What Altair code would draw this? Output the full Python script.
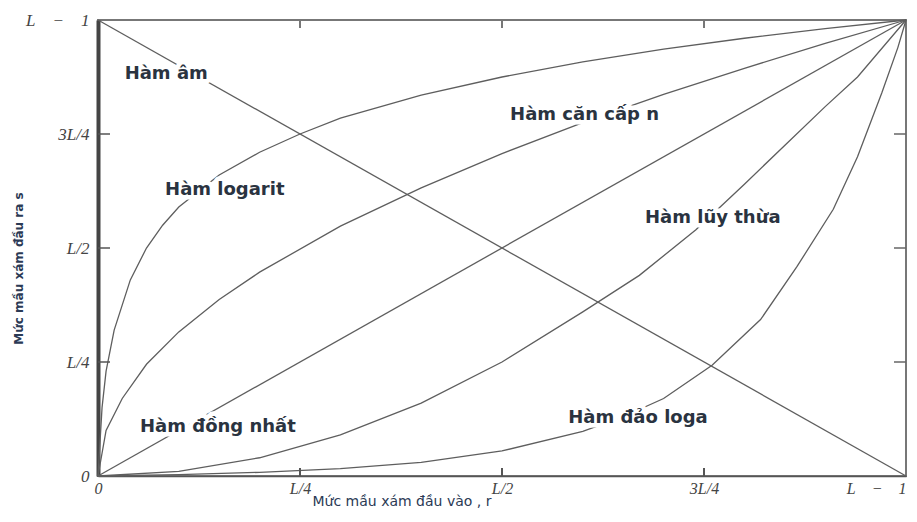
import altair as alt
import pandas as pd

# ---- data (normalised: 0 = 0, 1 = L-1) ----
neg_x = [0.0, 1.0]
neg_y = [1.0, 0.0]

log_x = [0.0, 0.005, 0.01, 0.02, 0.04, 0.06, 0.08, 0.10, 0.15, 0.20, 0.25, 0.30, 0.40, 0.50, 0.60, 0.70, 0.80, 0.90, 1.0]
log_y = [0.0, 0.15, 0.23, 0.32, 0.43, 0.50, 0.55, 0.59, 0.66, 0.71, 0.75, 0.785, 0.835, 0.875, 0.908, 0.936, 0.96, 0.981, 1.0]

root_x = [0.0, 0.01, 0.03, 0.06, 0.10, 0.15, 0.20, 0.30, 0.40, 0.50, 0.60, 0.70, 0.80, 0.90, 1.0]
root_y = [0.0, 0.10, 0.17, 0.245, 0.316, 0.387, 0.447, 0.548, 0.632, 0.707, 0.775, 0.837, 0.894, 0.949, 1.0]

ident_x = [0.0, 1.0]
ident_y = [0.0, 1.0]

pow_x = [0.0, 0.1, 0.2, 0.3, 0.4, 0.5, 0.6, 0.67, 0.74, 0.8, 0.9, 0.94, 1.0]
pow_y = [0.0, 0.01, 0.04, 0.09, 0.16, 0.25, 0.36, 0.44, 0.54, 0.64, 0.81, 0.875, 1.0]

invlog_x = [0.0, 0.1, 0.2, 0.3, 0.4, 0.5, 0.6, 0.65, 0.7, 0.76, 0.82, 0.865, 0.91, 0.94, 0.97, 0.99, 1.0]
invlog_y = [0.0, 0.003, 0.008, 0.016, 0.03, 0.055, 0.098, 0.13, 0.17, 0.243, 0.343, 0.459, 0.585, 0.70, 0.84, 0.94, 1.0]

label_text = ["Hàm âm", "Hàm logarit", "Hàm căn cấp n", "Hàm lũy thừa", "Hàm đồng nhất", "Hàm đảo loga"]
label_x = [0.033, 0.083, 0.510, 0.677, 0.052, 0.582]
label_y = [0.882, 0.627, 0.792, 0.566, 0.107, 0.127]

tick_vals = [0.0, 0.25, 0.5, 0.75, 1.0]
tick_labels = ["0", "L/4", "L/2", "3L/4", "L\u2003\u2212\u20031"]
inner_ticks = [0.25, 0.5, 0.75]

# ---- tables ----
rows = []
for name, xs, ys in [("neg", neg_x, neg_y), ("log", log_x, log_y), ("root", root_x, root_y),
                     ("ident", ident_x, ident_y), ("pow", pow_x, pow_y), ("invlog", invlog_x, invlog_y)]:
    for i, (a, b) in enumerate(zip(xs, ys)):
        rows.append({"curve": name, "x": a, "y": b, "o": i})
curves = pd.DataFrame(rows)
labels = pd.DataFrame({"x": label_x, "y": label_y, "t": label_text})
ticks_x = pd.DataFrame({"x": inner_ticks})
ticks_y = pd.DataFrame({"y": inner_ticks})

expr = "''"
for v, l in reversed(list(zip(tick_vals, tick_labels))):
    expr = f"datum.value == {v} ? '{l}' : ({expr})"

W, H = 808, 456
xs = alt.Scale(domain=[0, 1], nice=False, zero=False)
ys = alt.Scale(domain=[0, 1], nice=False, zero=False)

x_axis = alt.Axis(values=tick_vals, labelExpr=expr, ticks=False, grid=False,
                  domainColor="#555", domainWidth=1.5,
                  labelFont="Liberation Serif", labelFontStyle="italic", labelFontSize=16,
                  labelColor="#444", labelPadding=4, labelOverlap=False, labelFlush=False,
                  labelAlign={"condition": {"test": "datum.value == 1", "value": "right"},
                              "value": "center"},
                  title="Mức mầu xám đầu vào , r", titleFont="DejaVu Sans", titleFontSize=14,
                  titleFontWeight="normal", titleColor="#2b3a55", titleX=214, titleY=29,
                  titleAlign="left", titleBaseline="alphabetic")
y_axis = alt.Axis(values=tick_vals, labelExpr=expr, ticks=False, grid=False,
                  domainColor="#444", domainWidth=4,
                  labelFont="Liberation Serif", labelFontStyle="italic", labelFontSize=17,
                  labelColor="#444", labelPadding=9, labelOverlap=False, labelFlush=False,
                  title="Mức mầu xám đầu ra  s", titleFont="DejaVu Sans", titleFontSize=12,
                  titleFontWeight="bold", titleColor="#2b3a55", titleX=-80, titleY=248,
                  titleAngle=-90, titleAlign="center", titleBaseline="middle")

lines = alt.Chart(curves).mark_line(color="#5e5e5e", strokeWidth=1.3).encode(
    x=alt.X("x:Q", scale=xs, axis=x_axis),
    y=alt.Y("y:Q", scale=ys, axis=y_axis),
    detail="curve:N",
    order="o:Q",
)

halo = alt.Chart(labels).mark_text(align="left", baseline="middle", font="DejaVu Sans",
                                   fontSize=18, fontWeight="bold", stroke="white",
                                   strokeWidth=9, strokeJoin="round", fill="white").encode(
    x="x:Q", y="y:Q", text="t:N")
text = alt.Chart(labels).mark_text(align="left", baseline="middle", font="DejaVu Sans",
                                   fontSize=18, fontWeight="bold", color="#2a3340").encode(
    x="x:Q", y="y:Q", text="t:N")

tick_bottom = alt.Chart(ticks_x).mark_rule(color="#555", strokeWidth=2).encode(
    x="x:Q", y=alt.value(H), y2=alt.value(H - 8))
tick_top = alt.Chart(ticks_x).mark_rule(color="#777", strokeWidth=2).encode(
    x="x:Q", y=alt.value(0), y2=alt.value(8))
tick_left = alt.Chart(ticks_y).mark_rule(color="#555", strokeWidth=1.5).encode(
    y="y:Q", x=alt.value(0), x2=alt.value(12))
tick_right = alt.Chart(ticks_y).mark_rule(color="#666", strokeWidth=1.5).encode(
    y="y:Q", x=alt.value(W), x2=alt.value(W - 12))

chart = alt.layer(lines, halo, text, tick_bottom, tick_top, tick_left, tick_right).properties(
    width=W, height=H,
    autosize=alt.AutoSizeParams(type="none"),
    padding={"left": 90, "top": 12, "right": 3, "bottom": 32},
).configure_view(stroke="#777", strokeWidth=2)

chart.save("out.html", embed_options={"renderer": "svg", "actions": False})
